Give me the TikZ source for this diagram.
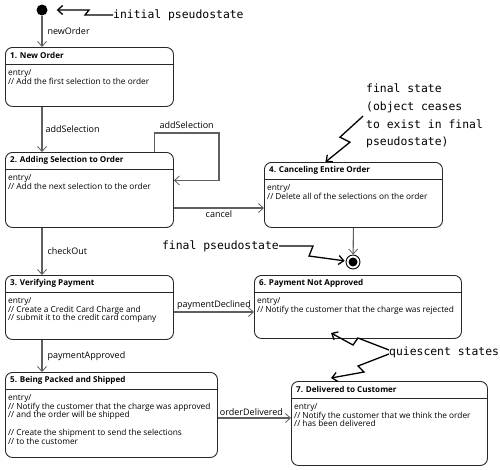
\documentclass[tikz,border=0pt]{standalone}
\usepackage{fontspec}
\setmainfont{Open Sans}
\newfontfamily\handfont{DejaVu Sans Mono}
\usetikzlibrary{arrows.meta}
\definecolor{lineclr}{RGB}{95,95,95}
\definecolor{boxclr}{RGB}{40,40,40}
\tikzset{
  statebox/.style={draw=boxclr, line width=0.9pt, rounded corners=7pt, anchor=north west, inner sep=0pt},
  statetitle/.style={anchor=west, font=\fontsize{8.1}{9}\selectfont\bfseries, inner sep=0pt},
  statebody/.style={anchor=north west, align=left, font=\fontsize{8.3}{8.9}\selectfont, inner sep=0pt},
  trans/.style={draw=lineclr, line width=1.1pt, -{Straight Barb[length=5pt,width=9pt,line width=0.8pt]}},
  translbl/.style={font=\fontsize{9}{10}\selectfont, inner sep=2pt},
  note/.style={font=\handfont\fontsize{11.4}{17.6}\selectfont, inner sep=0pt, align=left},
  notearrow/.style={draw=black, line width=1.3pt, -{Straight Barb[length=5pt,width=9pt]}},
}

\begin{document}
\begin{tikzpicture}[x=1pt, y=-1pt]
  \useasboundingbox (0,0) rectangle (500,469);

  % pseudostates
  \node[circle, fill=black, minimum size=11pt, inner sep=0pt] (init) at (42,10) {};
  \node[circle, draw=black, line width=0.9pt, minimum size=14pt, inner sep=0pt] (final) at (353,262) {};
  \node[circle, fill=black, minimum size=9pt, inner sep=0pt] (finaldot) at (final) {};

  % states
  \node[statebox, minimum width=168pt, minimum height=59pt] (s1) at (5,47) {};
  \node[statebox, minimum width=168pt, minimum height=75pt] (s2) at (5,152) {};
  \node[statebox, minimum width=168pt, minimum height=64pt] (s3) at (5,275) {};
  \node[statebox, minimum width=178pt, minimum height=65pt] (s4) at (264,162) {};
  \node[statebox, minimum width=212pt, minimum height=85pt] (s5) at (5,372) {};
  \node[statebox, minimum width=207pt, minimum height=63pt] (s6) at (254,275) {};
  \node[statebox, minimum width=196pt, minimum height=84pt] (s7) at (291,381) {};
  \foreach \s in {s1,s2,s3,s4,s5,s6,s7}
    \draw[draw=boxclr, line width=0.9pt] ([yshift=-17pt]\s.north west) -- ([yshift=-17pt]\s.north east);

  \node[statetitle] (s1t) at ([xshift=5pt,yshift=-8.5pt]s1.north west) {1. New Order};
  \node[statebody] (s1b) at ([xshift=3pt,yshift=-22pt]s1.north west) {entry/\\// Add the first selection to the order};
  \node[statetitle] (s2t) at ([xshift=5pt,yshift=-8.5pt]s2.north west) {2. Adding Selection to Order};
  \node[statebody] (s2b) at ([xshift=3pt,yshift=-22pt]s2.north west) {entry/\\// Add the next selection to the order};
  \node[statetitle] (s3t) at ([xshift=5pt,yshift=-8.5pt]s3.north west) {3. Verifying Payment};
  \node[statebody] (s3b) at ([xshift=3pt,yshift=-22pt]s3.north west) {entry/\\// Create a Credit Card Charge and\\// submit it to the credit card company};
  \node[statetitle] (s4t) at ([xshift=5pt,yshift=-8.5pt]s4.north west) {4. Canceling Entire Order};
  \node[statebody] (s4b) at ([xshift=3pt,yshift=-22pt]s4.north west) {entry/\\// Delete all of the selections on the order};
  \node[statetitle] (s5t) at ([xshift=5pt,yshift=-8.5pt]s5.north west) {5. Being Packed and Shipped};
  \node[statebody] (s5b) at ([xshift=3pt,yshift=-22pt]s5.north west) {entry/\\// Notify the customer that the charge was approved\\// and the order will be shipped\\[8.9pt]// Create the shipment to send the selections\\// to the customer};
  \node[statetitle] (s6t) at ([xshift=5pt,yshift=-8.5pt]s6.north west) {6. Payment Not Approved};
  \node[statebody] (s6b) at ([xshift=3pt,yshift=-22pt]s6.north west) {entry/\\// Notify the customer that the charge was rejected};
  \node[statetitle] (s7t) at ([xshift=5pt,yshift=-8.5pt]s7.north west) {7. Delivered to Customer};
  \node[statebody] (s7b) at ([xshift=3pt,yshift=-22pt]s7.north west) {entry/\\// Notify the customer that we think the order\\// has been delivered};

  % transitions
  \coordinate (loopcorner) at (219,133);
  \coordinate (cancelrow) at (0,208);
  \coordinate (declinedrow) at (0,312);
  \coordinate (deliveredrow) at (0,418);
  \draw[trans] (init) -- node[translbl, right, xshift=3pt] {newOrder} (init |- s1.north);
  \draw[trans] (init |- s1.south) -- node[translbl, right, xshift=1pt] {addSelection} (init |- s2.north);
  \draw[trans] ([xshift=65pt]s2.north) |- node[translbl, above, pos=0.75, yshift=2pt] {addSelection} (loopcorner) |- ([yshift=9.5pt]s2.east);
  \draw[trans] (s2.east |- cancelrow) -- node[translbl, below] {cancel} (s4.west |- cancelrow);
  \draw[trans] (s4.south) -- (final);
  \draw[trans] (init |- s2.south) -- node[translbl, right, xshift=3pt] {checkOut} (init |- s3.north);
  \draw[trans] (s3.east |- declinedrow) -- node[translbl, above] {paymentDeclined} (s6.west |- declinedrow);
  \draw[trans] (init |- s3.south) -- node[translbl, right, xshift=3pt] {paymentApproved} (init |- s5.north);
  \draw[trans] (s5.east |- deliveredrow) -- node[translbl, above, xshift=-3pt] {orderDelivered} (s7.west |- deliveredrow);

  % notes
  \node[note, anchor=west] (initnote) at (113,15) {initial pseudostate};
  \node[note, anchor=north west] (fsnote) at (366,84) {final state\\(object ceases\\to exist in final\\pseudostate)};
  \node[note, anchor=east] (fpnote) at (279,246) {final pseudostate};
  \node[note, anchor=west] (qnote) at (389,352) {quiescent states};
  \draw[notearrow, shorten >=9pt] (initnote.west) -- ++(-28,0) -- ++(4,-5) -- (init);
  \draw[notearrow] ([xshift=-3pt]fsnote.west) -- ++(-23,21) -- ++(10,5) -- ([xshift=-28pt]s4.north);
  \draw[notearrow, shorten >=1pt] (fpnote.east) -- ++(34,0) -- ++(-4,10) -- (final);
  \draw[notearrow] ([yshift=2pt]qnote.west) -- ++(-31,-12) -- ++(-5,7) -- ++(-22,-12);
  \draw[notearrow] ([yshift=-2pt]qnote.west) -- ++(-31,12) -- ++(6,6) -- ++(-33,6);
\end{tikzpicture}
\end{document}
